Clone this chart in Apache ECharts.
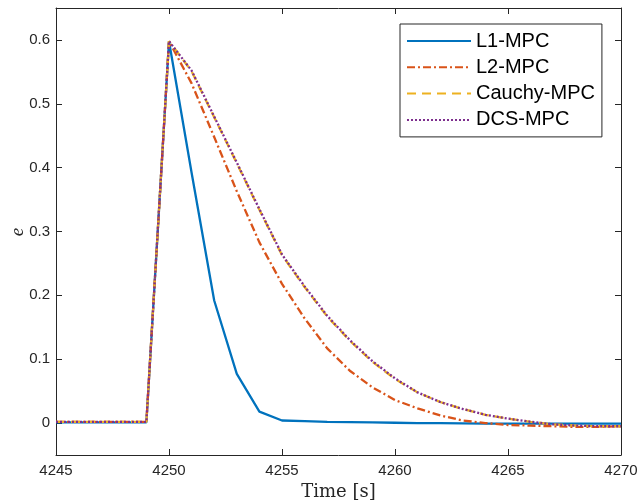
<!DOCTYPE html>
<html>
<head>
<meta charset="utf-8">
<script src="https://cdn.jsdelivr.net/npm/echarts@6/dist/echarts.min.js"></script>
<style>
    html,body{margin:0;padding:0;background:#fff;}
    #chart{width:640px;height:504px;}
</style>
</head>
<body>
<div id="chart"></div>
<script>
    // time axis, one sample per second
    var time = [4245,4246,4247,4248,4249,4250,4251,4252,4253,4254,4255,4256,4257,4258,4259,4260,4261,4262,4263,4264,4265,4266,4267,4268,4269,4270];
    var l1Mpc = [0.001,0.001,0.001,0.001,0.001,0.598,0.392,0.192,0.077,0.018,0.004,0.003,0.002,0.0015,0.001,0.0005,0,0,-0.0005,-0.001,-0.001,-0.001,-0.001,-0.001,-0.001,-0.001];
    var l2Mpc = [0.002,0.002,0.002,0.002,0.002,0.598,0.532,0.448,0.363,0.283,0.218,0.164,0.117,0.082,0.056,0.036,0.023,0.012,0.004,0.0,-0.003,-0.004,-0.005,-0.006,-0.006,-0.005];
    var cauchyMpc = [0.002,0.002,0.002,0.002,0.002,0.598,0.551,0.479,0.407,0.334,0.263,0.213,0.167,0.129,0.096,0.069,0.048,0.033,0.022,0.013,0.007,0.002,-0.002,-0.004,-0.005,-0.005];
    var dcsMpc = [0.002,0.002,0.002,0.002,0.002,0.598,0.552,0.480,0.408,0.335,0.264,0.214,0.168,0.130,0.097,0.070,0.048,0.033,0.022,0.013,0.007,0.002,-0.002,-0.004,-0.005,-0.005];
    var yTicks = [0,0.1,0.2,0.3,0.4,0.5,0.6];
    var names = ['L1-MPC','L2-MPC','Cauchy-MPC','DCS-MPC'];

    function pairs(ys){
        return time.map(function(t,i){ return [t, ys[i]]; });
    }

    var axisColor = '#262626';
    var font = '"Liberation Sans", Arial, sans-serif';

    var chart = echarts.init(document.getElementById('chart'));

    function mkLine(name, data, color, type){
        return {
            name: name,
            type: 'line',
            data: pairs(data),
            symbol: 'none',
            animation: false,
            lineStyle: {color: color, width: 2.3, type: type},
            itemStyle: {color: color}
        };
    }

    // box axes (top / right) only carry ticks
    var boxLine = {show: true, onZero: false, lineStyle: {color: axisColor, width: 1}};

    chart.setOption({
        animation: false,
        grid: {left:56, right:19, top:8, bottom:49, outerBoundsMode: 'none', containLabel: false},
        legend: {
            orient: 'vertical',
            left: 400,
            top: 24,
            padding: [7, 7, 7, 6],
            itemWidth: 64,
            itemHeight: 14,
            itemGap: 6.3,
            borderColor: axisColor,
            borderWidth: 1,
            backgroundColor: '#fff',
            itemStyle: {opacity: 0},
            textStyle: {fontFamily: font, fontSize: 20, color: '#000'},
            data: names
        },
        // y axis name, placed by hand (axis name gap is ignored here)
        graphic: [{
            type: 'text',
            x: 18, y: 232,
            rotation: Math.PI / 2,
            style: {
                text: 'e',
                font: 'italic 19px "Liberation Serif", serif',
                fill: axisColor,
                align: 'center',
                verticalAlign: 'middle'
            }
        }],
        xAxis: [
            {
                type: 'value', min: 4245, max: 4270, interval: 5,
                name: 'Time [s]', nameLocation: 'middle', nameGap: 26,
                nameTextStyle: {fontFamily: '"DejaVu Serif", "Liberation Serif", serif', fontSize: 18, color: axisColor},
                axisLine: boxLine,
                axisTick: {inside: true, length: 6, lineStyle: {color: axisColor}},
                axisLabel: {fontFamily: font, fontSize: 15, color: axisColor, margin: 8,
                    formatter: function(v){ return String(v); }},
                splitLine: {show: false}
            },
            {
                type: 'value', min: 4245, max: 4270, interval: 5, position: 'top',
                axisLine: boxLine,
                axisTick: {inside: true, length: 6, lineStyle: {color: axisColor}},
                axisLabel: {show: false},
                splitLine: {show: false}
            }
        ],
        yAxis: [
            {
                type: 'value', min: -0.05, max: 0.65,
                axisLine: boxLine,
                axisTick: {inside: true, length: 6, customValues: yTicks, lineStyle: {color: axisColor}},
                axisLabel: {fontFamily: font, fontSize: 15, color: axisColor, margin: 6, customValues: yTicks,
                    formatter: function(v){ return String(v); }},
                splitLine: {show: false}
            },
            {
                type: 'value', min: -0.05, max: 0.65, position: 'right',
                axisLine: boxLine,
                axisTick: {inside: true, length: 6, customValues: yTicks, lineStyle: {color: axisColor}},
                axisLabel: {show: false, customValues: yTicks},
                splitLine: {show: false}
            }
        ],
        series: [
            mkLine(names[0], l1Mpc, '#0072BD', 'solid'),
            mkLine(names[1], l2Mpc, '#D95319', [8,3,2,3]),
            mkLine(names[2], cauchyMpc, '#EDB120', [9,6]),
            mkLine(names[3], dcsMpc, '#7E2F8E', [2,2])
        ]
    });
</script>
</body>
</html>
